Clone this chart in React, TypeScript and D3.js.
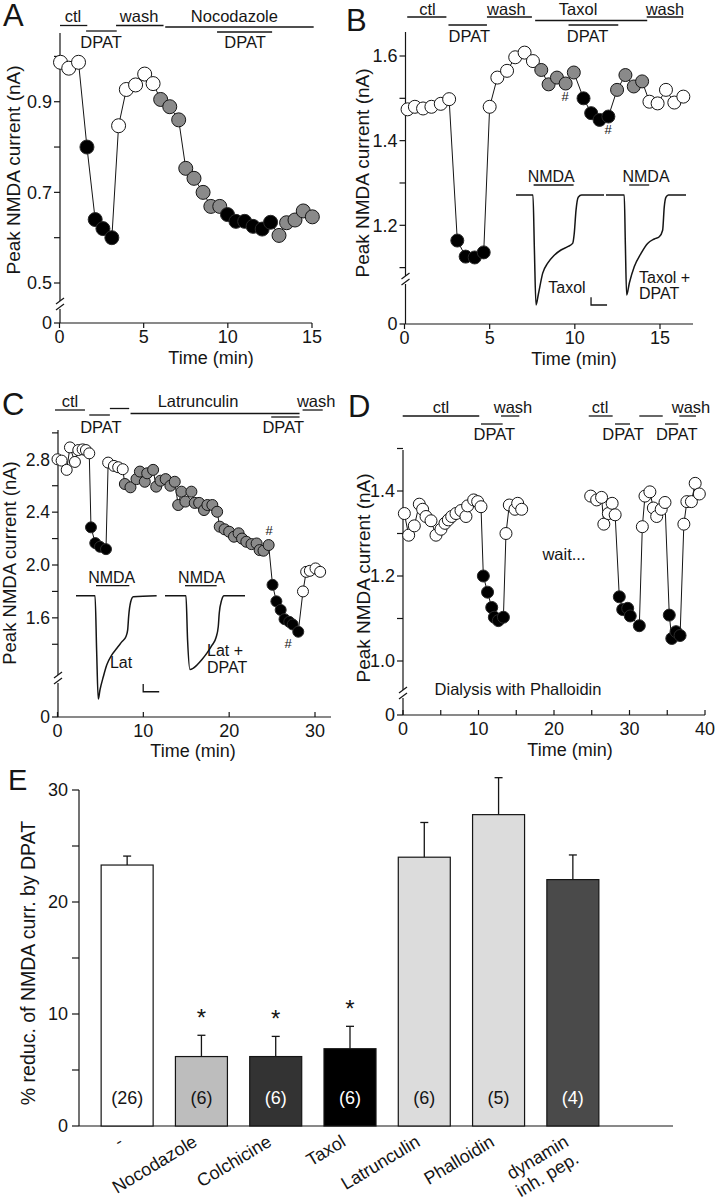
import React from "react";
import * as d3 from "d3";

const FONT = "'Liberation Sans', Arial, Helvetica, sans-serif";
const INK = "#151515";

// ---------------- Panel A : Nocodazole ----------------
const aTime = [0.06, 0.55, 1.13, 1.63, 2.12, 2.58, 3.11, 3.51, 3.97, 4.52, 5.06, 5.56, 6.01, 6.55, 7.08, 7.5, 7.99, 8.53, 8.99, 9.52, 9.98, 10.48, 11.0, 11.5, 12.04, 12.54, 13.04, 13.49, 13.99, 14.48, 15.02];
const aCurrent = [0.987, 0.974, 0.987, 0.8, 0.64, 0.62, 0.6, 0.847, 0.927, 0.937, 0.961, 0.94, 0.905, 0.889, 0.86, 0.753, 0.731, 0.7, 0.669, 0.669, 0.651, 0.636, 0.636, 0.625, 0.619, 0.634, 0.605, 0.633, 0.639, 0.659, 0.646];
const aKind = "wwwbbbbwwwwwggggggggbbbbbbggggg".split("");
const aYTicks = [0.5, 0.6, 0.7, 0.8, 0.9, 1.0];
const aYLabels = [0.5, 0.7, 0.9];
const aXTicks = [0, 5, 10, 15];

// ---------------- Panel B : Taxol ----------------
const bTime = [0.18, 0.61, 1.09, 1.58, 2.13, 2.62, 3.1, 3.59, 4.12, 4.65, 5.0, 5.45, 6.02, 6.5, 7.05, 7.54, 8.03, 8.46, 8.95, 9.46, 9.94, 10.51, 10.96, 11.45, 11.97, 12.48, 12.97, 13.46, 13.95, 14.38, 14.86, 15.35, 15.84, 16.37];
const bCurrent = [1.474, 1.48, 1.476, 1.48, 1.487, 1.498, 1.164, 1.126, 1.124, 1.136, 1.48, 1.549, 1.565, 1.597, 1.608, 1.588, 1.567, 1.533, 1.549, 1.535, 1.561, 1.5, 1.465, 1.449, 1.457, 1.52, 1.555, 1.528, 1.54, 1.492, 1.488, 1.52, 1.49, 1.504];
const bKind = "wwwwwwbbbbwwwwwwgggggbbbbggggwwwww".split("");
const bYTicks = [1.1, 1.2, 1.3, 1.4, 1.5, 1.6];
const bYLabels = [1.2, 1.4, 1.6];
const bXTicks = [0, 5, 10, 15];

// ---------------- Panel C : Latrunculin ----------------
const cTime = [0.0, 0.48, 1.07, 1.45, 2.03, 2.42, 2.93, 3.31, 3.7,
  3.9, 4.4, 4.95, 5.65,
  5.9, 6.57, 7.07, 7.6,
  7.85, 8.5, 9.2, 9.6, 10.17, 10.45, 11.14, 11.5, 12.0, 12.6, 13.15, 13.66, 14.06, 14.44, 14.9, 15.6, 15.99, 16.5, 17.07, 17.46, 18.04, 18.6, 18.9, 19.47, 20.0, 20.56, 21.1, 21.5, 22.0, 22.6, 23.2, 23.55, 24.0, 24.6,
  25.05, 25.5, 26.0, 26.45, 27.0, 27.4, 28.05,
  28.6, 28.97, 29.4, 30.06, 30.6];
const cCurrent = [2.8, 2.79, 2.72, 2.89, 2.78, 2.87, 2.875, 2.87, 2.845,
  2.285, 2.166, 2.138, 2.12,
  2.775, 2.75, 2.74, 2.725,
  2.613, 2.588, 2.65, 2.707, 2.63, 2.694, 2.72, 2.593, 2.638, 2.65, 2.6, 2.63, 2.454, 2.555, 2.48, 2.555, 2.47, 2.47, 2.416, 2.454, 2.454, 2.403, 2.29, 2.27, 2.252, 2.214, 2.24, 2.2, 2.176, 2.158, 2.163, 2.113, 2.108, 2.151,
  1.85, 1.725, 1.66, 1.59, 1.57, 1.55, 1.495,
  1.8, 1.948, 1.956, 1.974, 1.948];
const cKind = ("wwwwwwwww" + "bbbb" + "wwww" + "g".repeat(34) + "bbbbbbb" + "wwwww").split("");
const cYTicks = [1.4, 1.6, 1.8, 2.0, 2.2, 2.4, 2.6, 2.8, 3.0];
const cYLabels = [1.6, 2.0, 2.4, 2.8];
const cXTicks = [0, 10, 20, 30];

// ---------------- Panel D : Phalloidin ----------------
const dTime = [0.18, 0.75, 1.5, 2.16, 2.6, 3.05, 3.71, 4.37, 5.03, 5.56, 6.0, 6.45, 7.02, 7.68, 8.34, 8.56, 9.36, 9.89, 10.33,
  10.64, 11.2, 11.75, 12.1, 12.63, 13.3,
  13.64, 14.08, 14.83, 15.19, 15.72,
  24.86, 25.65, 26.3, 26.6, 27.2, 27.7, 28.1,
  28.65, 29.1, 29.76, 30.1, 31.3,
  31.7, 32.05, 32.7, 33.16, 33.6, 34.2, 34.7,
  35.27, 35.6, 36.16, 36.7,
  37.2, 37.6, 38.2, 38.7, 39.25];
const dCurrent = [1.347, 1.296, 1.318, 1.369, 1.357, 1.34, 1.33, 1.296, 1.31, 1.324, 1.332, 1.34, 1.347, 1.354, 1.34, 1.365, 1.379, 1.375, 1.363,
  1.2, 1.162, 1.126, 1.103, 1.095, 1.103,
  1.3, 1.367, 1.357, 1.371, 1.357,
  1.388, 1.379, 1.385, 1.322, 1.347, 1.371, 1.344,
  1.151, 1.121, 1.124, 1.106, 1.083,
  1.316, 1.388, 1.398, 1.36, 1.34, 1.357, 1.373,
  1.108, 1.053, 1.069, 1.06,
  1.322, 1.375, 1.375, 1.418, 1.393];
const dKind = ("w".repeat(19) + "bbbbbb" + "wwwww" + "wwwwwww" + "bbbbb" + "wwwwwww" + "bbbb" + "wwwww").split("");
const dSegment = [...Array(30).fill(1), ...Array(28).fill(2)];
const dYTicks = [1.0, 1.1, 1.2, 1.3, 1.4, 1.5];
const dYLabels = [1.0, 1.2, 1.4];
const dXTicks = [0, 5, 10, 15, 20, 25, 30, 35, 40];
const dXLabels = [0, 10, 20, 30, 40];

// ---------------- Inset current traces (time in s, current normalised to peak) ----------------
const bTrace1T = [0, 1.06, 1.15, 1.25, 1.4, 1.67, 1.98, 2.375, 2.81, 3.23, 3.54, 3.64, 3.75, 3.89, 4.1, 5.5];
const bTrace1I = [0, 0, -0.5, -1.0, -0.9, -0.71, -0.62, -0.55, -0.5, -0.47, -0.44, -0.35, -0.14, -0.02, 0, 0];
const bTrace2T = [0, 1.14, 1.21, 1.29, 1.46, 1.77, 2.19, 2.6, 3.02, 3.33, 3.54, 3.64, 3.75, 3.9, 5.0];
const bTrace2I = [0, 0, -0.45, -0.91, -0.8, -0.65, -0.53, -0.44, -0.4, -0.38, -0.32, -0.11, -0.02, 0, 0];
const cTrace1T = [0, 1.19, 1.29, 1.39, 1.5, 1.71, 1.92, 2.23, 2.54, 2.86, 3.125, 3.23, 3.29, 3.42, 3.58, 5.04];
const cTrace1I = [0, 0, -0.5, -0.94, -0.855, -0.735, -0.63, -0.54, -0.48, -0.42, -0.37, -0.31, -0.19, -0.055, -0.01, 0];
const cTrace2T = [0, 1.31, 1.41, 1.56, 1.75, 2.0, 2.31, 2.63, 2.94, 3.19, 3.33, 3.39, 3.54, 3.69, 5.0];
const cTrace2I = [0, 0, -0.4, -0.67, -0.66, -0.63, -0.58, -0.52, -0.45, -0.38, -0.28, -0.16, -0.04, 0, 0];

// ---------------- Panel E : bar chart ----------------
const eGroups = ["-", "Nocodazole", "Colchicine", "Taxol", "Latrunculin", "Phalloidin", "dynamin|inh. pep."];
const eMean = [23.3, 6.2, 6.2, 6.9, 24.0, 27.8, 22.0];
const eSem = [0.8, 1.9, 1.8, 2.0, 3.1, 3.3, 2.2];
const eN = [26, 6, 6, 6, 6, 5, 4];
const eSignificant = [false, true, true, true, false, false, false];
const eColors = ["#ffffff", "#bdbdbd", "#333333", "#000000", "#dcdcdc", "#dcdcdc", "#4a4a4a"];
const eYTicks = [0, 5, 10, 15, 20, 25, 30];
const eYLabels = [0, 10, 20, 30];

// protocol annotations: [label, tStart, tEnd, row, textT, lineDy]
type Proto = [string, number, number, number, number, number];
const aProtocol: Proto[] = [
  ["ctl", 0.03, 1.65, 0, 0.8, 0], ["DPAT", 1.58, 3.4, 1, 2.47, 0], ["wash", 3.36, 6.18, 0, 4.73, 0],
  ["Nocodazole", 6.28, 15.1, 0, 10.39, 1.5], ["DPAT", 9.36, 12.63, 1, 11.02, 1],
];
const bProtocol: Proto[] = [
  ["ctl", 0.16, 2.46, 0, 1.35, 0], ["DPAT", 2.58, 4.84, 1, 3.81, 0], ["wash", 4.84, 7.48, 0, 5.98, 0],
  ["Taxol", 7.67, 14.25, 0, 10.19, 3.5], ["DPAT", 9.63, 12.55, 1, 10.75, 0], ["wash", 14.22, 16.36, 0, 15.29, 0],
];
const cProtocol: Proto[] = [
  ["ctl", -0.29, 3.2, 0, 1.45, 0], ["DPAT", 3.7, 6.1, 1, 5.06, 0], ["", 6.1, 8.35, 0, 7.2, -1.5],
  ["Latrunculin", 8.51, 28.2, 0, 16.37, 3.5], ["DPAT", 24.9, 28.2, 1, 26.3, 2], ["wash", 28.55, 30.9, 0, 30.14, 0],
];
const dProtocol: Proto[] = [
  ["ctl", -0.04, 10.1, 0, 5.03, 0], ["DPAT", 10.33, 13.2, 1, 12.09, 0], ["wash", 12.98, 15.4, 0, 14.57, 0],
  ["ctl", 24.6, 27.77, 0, 26.1, 0], ["DPAT", 28.08, 30.07, 1, 29.14, 0], ["", 31.3, 34.4, 0, 32.8, 0],
  ["DPAT", 34.7, 36.46, 1, 36.25, 0], ["wash", 36.6, 38.8, 0, 38.15, 0],
];

const FILL: Record<string, string> = { w: "#ffffff", b: "#000000", g: "#8a8a8a" };

type Lin = d3.ScaleLinear<number, number>;

function Dots({ t, v, k, seg, x, y, r }: { t: number[]; v: number[]; k: string[]; seg?: number[]; x: Lin; y: Lin; r: number }) {
  const idx = d3.range(t.length);
  const groups = d3.groups(idx, (i) => (seg ? seg[i] : 0));
  const line = d3.line<number>().x((i) => x(t[i])).y((i) => y(v[i]));
  return (
    <g>
      {groups.map(([key, g]) => (
        <path key={"l" + key} d={line(g) || ""} fill="none" stroke={INK} strokeWidth={1} />
      ))}
      {idx.map((i) => (
        <circle key={i} cx={x(t[i])} cy={y(v[i])} r={r} fill={FILL[k[i]]} stroke={k[i] === "b" ? "#2a2a2a" : INK} strokeWidth={1} />
      ))}
    </g>
  );
}

function YAxis({ x, y, top, zeroY, breakY, ticks, labels, fs }: { x: number; y: Lin; top: number; zeroY: number; breakY: number; ticks: number[]; labels: number[]; fs: number }) {
  return (
    <g stroke={INK} strokeWidth={1.2}>
      <line x1={x} x2={x} y1={top} y2={breakY - 4} />
      <line x1={x} x2={x} y1={breakY + 4} y2={zeroY} />
      <line x1={x - 4} x2={x + 4} y1={breakY - 1} y2={breakY - 7} />
      <line x1={x - 4} x2={x + 4} y1={breakY + 5} y2={breakY - 1} />
      {ticks.map((t) => (
        <line key={t} x1={x - 6} x2={x} y1={y(t)} y2={y(t)} />
      ))}
      <line x1={x - 6} x2={x} y1={zeroY} y2={zeroY} />
      <g stroke="none" fill={INK} fontSize={fs} textAnchor="end">
        {labels.map((t) => (
          <text key={t} x={x - 8} y={y(t)} dy="0.36em">
            {t.toFixed(1)}
          </text>
        ))}
        <text x={x - 8} y={zeroY} dy="0.36em">0</text>
      </g>
    </g>
  );
}

function XAxis({ x, y0, x0, x1, ticks, labels, up, fs, title, titleX, titleY }: { x: Lin; y0: number; x0: number; x1: number; ticks: number[]; labels: number[]; up: boolean; fs: number; title: string; titleX: number; titleY: number }) {
  return (
    <g stroke={INK} strokeWidth={1.2}>
      <line x1={x0} x2={x1} y1={y0} y2={y0} />
      {ticks.map((t) => (
        <line key={t} x1={x(t)} x2={x(t)} y1={y0} y2={up ? y0 - 5 : y0 + 5} />
      ))}
      <g stroke="none" fill={INK} fontSize={fs} textAnchor="middle">
        {labels.map((t) => (
          <text key={t} x={x(t)} y={y0 + 20}>{t}</text>
        ))}
        <text x={titleX} y={titleY} fontSize={fs}>{title}</text>
      </g>
    </g>
  );
}

function Protocol({ items, x, base0, line0, line1, base1 }: { items: Proto[]; x: Lin; base0: number; line0: number; line1: number; base1: number }) {
  return (
    <g fontSize={16.5} fill={INK} textAnchor="middle">
      {items.map(([label, t0, t1, row, tt, dy], i) => (
        <g key={i}>
          <line x1={x(t0)} x2={x(t1)} y1={(row === 0 ? line0 : line1) + dy} y2={(row === 0 ? line0 : line1) + dy} stroke={INK} strokeWidth={1.3} />
          {label && (
            <text x={x(tt)} y={row === 0 ? base0 : base1}>{label}</text>
          )}
        </g>
      ))}
    </g>
  );
}

function Trace({ t, i, x0, base, bar, labelT }: { t: number[]; i: number[]; x0: number; base: number; bar: [number, number]; labelT: number }) {
  const xs = d3.scaleLinear().domain([0, 1]).range([x0, x0 + 16]);
  const ys = d3.scaleLinear().domain([-1, 0]).range([base + 110, base]);
  const line = d3.line<number>().x((j) => xs(t[j])).y((j) => ys(i[j])).curve(d3.curveMonotoneX);
  return (
    <g>
      <path d={line(d3.range(t.length)) || ""} fill="none" stroke={INK} strokeWidth={1.5} />
      <line x1={xs(bar[0])} x2={xs(bar[1])} y1={base - 10} y2={base - 10} stroke={INK} strokeWidth={1.3} />
      <text x={xs(labelT)} y={base - 13} fontSize={16} textAnchor="middle" fill={INK}>NMDA</text>
    </g>
  );
}

function ScaleBar({ x0, base, t, i }: { x0: number; base: number; t: number; i: number }) {
  const xs = d3.scaleLinear().domain([0, 1]).range([x0, x0 + 16]);
  const ys = d3.scaleLinear().domain([-1, 0]).range([base + 110, base]);
  return (
    <path d={`M${xs(t)},${ys(i + 0.07)}V${ys(i)}H${xs(t + 1)}`} fill="none" stroke={INK} strokeWidth={1.3} />
  );
}

function YTitle({ x, y, fs }: { x: number; y: number; fs: number }) {
  return (
    <text transform={`translate(${x},${y}) rotate(-90)`} textAnchor="middle" fontSize={fs} fill={INK}>
      Peak NMDA current (nA)
    </text>
  );
}

export default function App() {
  // scales
  const axA = d3.scaleLinear().domain([0, 15]).range([59.5, 312]);
  const ayA = d3.scaleLinear().domain([0.5, 1.0]).range([283, 56.4]);
  const axB = d3.scaleLinear().domain([0, 15]).range([404.5, 660]);
  const ayB = d3.scaleLinear().domain([1.2, 1.6]).range([225.3, 56]);
  const axC = d3.scaleLinear().domain([0, 30]).range([57.5, 315]);
  const ayC = d3.scaleLinear().domain([2.0, 2.8]).range([565, 459.3]);
  const axD = d3.scaleLinear().domain([0, 40]).range([403, 705]);
  const ayD = d3.scaleLinear().domain([1.0, 1.4]).range([661, 491]);

  const eY = d3.scaleLinear().domain([0, 30]).range([1126, 790]);
  const eX = d3.scaleBand<string>().domain(eGroups).range([90, 610]).paddingInner(0.3).paddingOuter(0.15);
  const bw = eX.bandwidth();

  return (
    <svg width={722} height={1199} style={{ position: "absolute", left: 0, top: 0, background: "#fff" }} fontFamily={FONT}>
      <rect width={722} height={1199} fill="#fff" />

      {/* panel letters */}
      <g fontSize={31} fill={INK}>
        <text x={3} y={26}>A</text>
        <text x={346} y={31}>B</text>
        <text x={2} y={415}>C</text>
        <text x={348} y={417}>D</text>
        <text x={8} y={790} fontSize={29}>E</text>
      </g>

      {/* ---------- A ---------- */}
      <Protocol items={aProtocol} x={axA} base0={22} line0={25.5} line1={31} base1={48} />
      <YAxis x={60} y={ayA} top={33} zeroY={323} breakY={305} ticks={aYTicks} labels={aYLabels} fs={18} />
      <XAxis x={axA} y0={323} x0={60} x1={312} ticks={aXTicks} labels={aXTicks} up={false} fs={18} title="Time (min)" titleX={211} titleY={364} />
      <YTitle x={20} y={170} fs={19} />
      <Dots t={aTime} v={aCurrent} k={aKind} x={axA} y={ayA} r={7} />

      {/* ---------- B ---------- */}
      <Protocol items={bProtocol} x={axB} base0={15} line0={17} line1={25} base1={41.5} />
      <YAxis x={405.5} y={ayB} top={32} zeroY={324} breakY={280} ticks={bYTicks} labels={bYLabels} fs={18} />
      <XAxis x={axB} y0={324} x0={405.5} x1={693} ticks={bXTicks} labels={bXTicks} up={false} fs={18} title="Time (min)" titleX={574} titleY={365} />
      <YTitle x={369} y={173} fs={19} />
      <Trace t={bTrace1T} i={bTrace1I} x0={516} base={195} bar={[1.1, 3.6]} labelT={2.2} />
      <Trace t={bTrace2T} i={bTrace2I} x0={606} base={195} bar={[1.45, 2.7]} labelT={2.5} />
      <ScaleBar x0={516} base={195} t={4.69} i={-1.0} />
      <g fontSize={16} fill={INK}>
        <text x={567} y={293} textAnchor="middle">Taxol</text>
        <text x={639} y={283}>Taxol +</text>
        <text x={639} y={299}>DPAT</text>
        <text x={565} y={101} fontSize={13} textAnchor="middle">#</text>
        <text x={608} y={134} fontSize={13} textAnchor="middle">#</text>
      </g>
      <Dots t={bTime} v={bCurrent} k={bKind} x={axB} y={ayB} r={6.5} />

      {/* ---------- C ---------- */}
      <Protocol items={cProtocol} x={axC} base0={407} line0={410} line1={415} base1={433} />
      <YAxis x={58} y={ayC} top={430} zeroY={717} breakY={679} ticks={cYTicks} labels={cYLabels} fs={17.5} />
      <XAxis x={axC} y0={717} x0={58} x1={331} ticks={cXTicks} labels={cXTicks} up={true} fs={18} title="Time (min)" titleX={193} titleY={757} />
      <YTitle x={16} y={563} fs={18.5} />
      <Trace t={cTrace1T} i={cTrace1I} x0={76} base={595.7} bar={[1.25, 3.33]} labelT={2.23} />
      <Trace t={cTrace2T} i={cTrace2I} x0={165} base={595.7} bar={[1.25, 3.23]} labelT={2.29} />
      <ScaleBar x0={76} base={595.7} t={4.2} i={-0.873} />
      <g fontSize={16} fill={INK}>
        <text x={121} y={668} textAnchor="middle">Lat</text>
        <text x={207} y={656}>Lat +</text>
        <text x={207} y={673}>DPAT</text>
        <text x={269} y={535} fontSize={13} textAnchor="middle">#</text>
        <text x={288} y={648} fontSize={13} textAnchor="middle">#</text>
      </g>
      <Dots t={cTime} v={cCurrent} k={cKind} x={axC} y={ayC} r={5.5} />

      {/* ---------- D ---------- */}
      <Protocol items={dProtocol} x={axD} base0={413} line0={416} line1={424} base1={440} />
      <YAxis x={403} y={ayD} top={450} zeroY={715} breakY={694} ticks={dYTicks} labels={dYLabels} fs={18} />
      <XAxis x={axD} y0={715} x0={403} x1={705} ticks={dXTicks} labels={dXLabels} up={true} fs={18} title="Time (min)" titleX={570} titleY={756} />
      <YTitle x={370} y={578} fs={19} />
      <g fontSize={16.5} fill={INK}>
        <text x={564} y={560} textAnchor="middle">wait...</text>
        <text x={518} y={695} textAnchor="middle">Dialysis with Phalloidin</text>
      </g>
      <Dots t={dTime} v={dCurrent} k={dKind} seg={dSegment} x={axD} y={ayD} r={6} />

      {/* ---------- E ---------- */}
      <g stroke={INK} strokeWidth={1.2}>
        <line x1={79} x2={79} y1={eY(30)} y2={eY(0)} />
        <line x1={79} x2={673} y1={eY(0)} y2={eY(0)} />
        {eYTicks.map((t) => (
          <line key={t} x1={72} x2={79} y1={eY(t)} y2={eY(t)} />
        ))}
      </g>
      <g fontSize={18} fill={INK} textAnchor="end">
        {eYLabels.map((t) => (
          <text key={t} x={68} y={eY(t)} dy="0.36em">{t}</text>
        ))}
      </g>
      <text transform={`translate(35,963) rotate(-90)`} textAnchor="middle" fontSize={19.5} fill={INK}>
        % reduc. of NMDA curr. by DPAT
      </text>
      {eGroups.map((g, i) => {
        const x0 = eX(g) as number;
        const cx = x0 + bw / 2;
        const top = eY(eMean[i]);
        const errTop = eY(eMean[i] + eSem[i]);
        const dark = ["#333333", "#000000", "#4a4a4a"].includes(eColors[i]);
        const lines = g.split("|");
        return (
          <g key={g}>
            <line x1={cx} x2={cx} y1={top} y2={errTop} stroke={INK} strokeWidth={1.3} />
            <line x1={cx - 4} x2={cx + 4} y1={errTop} y2={errTop} stroke={INK} strokeWidth={1.3} />
            <rect x={x0} y={top} width={bw} height={eY(0) - top} fill={eColors[i]} stroke={INK} strokeWidth={1.2} />
            <text x={cx} y={1104} fontSize={18} textAnchor="middle" fill={dark ? "#fff" : INK}>({eN[i]})</text>
            {eSignificant[i] && (
              <text x={cx} y={errTop - 9} fontSize={24} textAnchor="middle" fill={INK}>*</text>
            )}
            <text transform={`translate(${cx - 3},1145) rotate(-31)`} textAnchor="end" fontSize={18} fill={INK}>
              {lines.map((l, j) => (
                <tspan key={j} x={0} dy={j === 0 ? 0 : "1.1em"}>{l}</tspan>
              ))}
            </text>
          </g>
        );
      })}
    </svg>
  );
}
